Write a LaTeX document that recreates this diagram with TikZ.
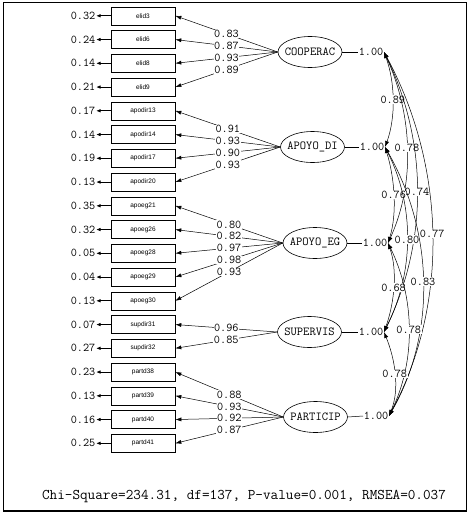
\documentclass[tikz,border=0pt]{standalone}
\usepackage{fontspec}
\setmainfont{Liberation Serif}
\newfontfamily\sansf{Liberation Sans}
\usetikzlibrary{arrows.meta,shapes.geometric}
\begin{document}
\begin{tikzpicture}[x=1pt,y=-1pt,
  obs/.style={draw,line width=0.6pt,minimum width=64pt,minimum height=18pt,inner sep=0pt,font=\sansf\fontsize{6.5}{7}\selectfont},
  lat/.style={draw,ellipse,line width=0.6pt,minimum width=64pt,minimum height=31pt,inner sep=0pt,font=\ttfamily\fontsize{12.2}{12}\selectfont},
  num/.style={font=\ttfamily\fontsize{11.9}{12}\selectfont,inner sep=0.5pt},
  coef/.style={num,fill=white},
  load/.style={-{Latex[length=6pt,width=4pt]},line width=0.5pt},
  err/.style={-{Latex[length=4.5pt,width=3.5pt]},line width=1pt},
  cov/.style={{Latex[length=6pt,width=4pt]}-{Latex[length=6pt,width=4pt]},line width=0.5pt},
  fit/.style={font=\ttfamily\fontsize{14.8}{15}\selectfont,inner sep=0pt}
]
\useasboundingbox (0,0) rectangle (472,514);
\draw[line width=1.4pt] (3.3,2.7) rectangle (466.7,511);

% observed variables with error variances
\foreach \t/\e [count=\i from 0] in {elid3/0.32,elid6/0.24,elid8/0.14,elid9/0.21,
  apodir13/0.17,apodir14/0.14,apodir17/0.19,apodir20/0.13,
  apoeg21/0.35,apoeg26/0.32,apoeg28/0.05,apoeg29/0.04,apoeg30/0.13,
  supdir31/0.07,supdir32/0.27,
  partd38/0.23,partd39/0.13,partd40/0.16,partd41/0.25}{
  \node[obs] (o\i) at (143,{15.8+23.75*\i}) {\t};
  \node[num,anchor=east] (e\i) at (96,{15.8+23.75*\i}) {\e};
  \draw[err] (o\i.west) -- (e\i.east);
}

% latent variables
\node[lat] (L1) at (310,52) {\makebox[0pt]{COOPERAC}};
\node[lat] (L2) at (312.5,147) {\makebox[0pt]{APOYO\_DI}};
\node[lat] (L3) at (315,243) {\makebox[0pt]{APOYO\_EG}};
\node[lat] (L4) at (309.5,332) {\makebox[0pt]{SUPERVIS}};
\node[lat] (L5) at (315.5,417) {\makebox[0pt]{PARTICIP}};

% loadings
\draw[load] (L1.west) -- node[coef]{0.83} (o0.east);
\draw[load] (L1.west) -- node[coef]{0.87} (o1.east);
\draw[load] (L1.west) -- node[coef]{0.93} (o2.east);
\draw[load] (L1.west) -- node[coef]{0.89} (o3.east);
\draw[load] (L2.west) -- node[coef]{0.91} (o4.east);
\draw[load] (L2.west) -- node[coef]{0.93} (o5.east);
\draw[load] (L2.west) -- node[coef]{0.90} (o6.east);
\draw[load] (L2.west) -- node[coef]{0.93} (o7.east);
\draw[load] (L3.west) -- node[coef]{0.80} (o8.east);
\draw[load] (L3.west) -- node[coef]{0.82} (o9.east);
\draw[load] (L3.west) -- node[coef]{0.97} (o10.east);
\draw[load] (L3.west) -- node[coef]{0.98} (o11.east);
\draw[load] (L3.west) -- node[coef]{0.93} (o12.east);
\draw[load] (L4.west) -- node[coef]{0.96} (o13.east);
\draw[load] (L4.west) -- node[coef]{0.85} (o14.east);
\draw[load] (L5.west) -- node[coef]{0.88} (o15.east);
\draw[load] (L5.west) -- node[coef]{0.93} (o16.east);
\draw[load] (L5.west) -- node[coef]{0.92} (o17.east);
\draw[load] (L5.west) -- node[coef]{0.87} (o18.east);

% variances
\node[num,anchor=east] (v1) at (384,52) {1.00};
\node[num,anchor=east] (v2) at (385,147) {1.00};
\node[num,anchor=east] (v3) at (388,243) {1.00};
\node[num,anchor=east] (v4) at (384,332) {1.00};
\node[num,anchor=east] (v5) at (389,416) {1.00};
\draw[line width=0.5pt] (L1.east) -- (v1.west);
\draw[line width=0.5pt] (L2.east) -- (v2.west);
\draw[line width=0.5pt] (L3.east) -- (v3.west);
\draw[line width=0.5pt] (L4.east) -- (v4.west);
\draw[line width=0.5pt] (L5.east) -- (v5.west);

% covariances
\draw[cov] (v1.east) .. controls +(11,30) and +(11,-30) .. (v2.east) node[coef,pos=0.5]{0.89};
\draw[cov] (v1.east) .. controls +(28,61) and +(28,-61) .. (v3.east) node[coef,pos=0.5]{0.78};
\draw[cov] (v1.east) .. controls +(44,90) and +(44,-90) .. (v4.east) node[coef,pos=0.5]{0.74};
\draw[cov] (v1.east) .. controls +(61,113) and +(61,-113) .. (v5.east) node[coef,pos=0.5]{0.77};
\draw[cov] (v2.east) .. controls +(9.5,30) and +(9.5,-30) .. (v3.east) node[coef,pos=0.5]{0.76};
\draw[cov] (v2.east) .. controls +(30,59) and +(30,-59) .. (v4.east) node[coef,pos=0.5]{0.80};
\draw[cov] (v2.east) .. controls +(48,84) and +(48,-84) .. (v5.east) node[coef,pos=0.5]{0.83};
\draw[cov] (v3.east) .. controls +(10,28) and +(10,-28) .. (v4.east) node[coef,pos=0.5]{0.68};
\draw[cov] (v3.east) .. controls +(27,55) and +(27,-55) .. (v5.east) node[coef,pos=0.5]{0.78};
\draw[cov] (v4.east) .. controls +(11,27) and +(11,-27) .. (v5.east) node[coef,pos=0.5]{0.78};

% fit statistics
\node[fit] (stats) at (244,496.5) {Chi-Square=234.31, df=137, P-value=0.001, RMSEA=0.037};
\end{tikzpicture}
\end{document}
